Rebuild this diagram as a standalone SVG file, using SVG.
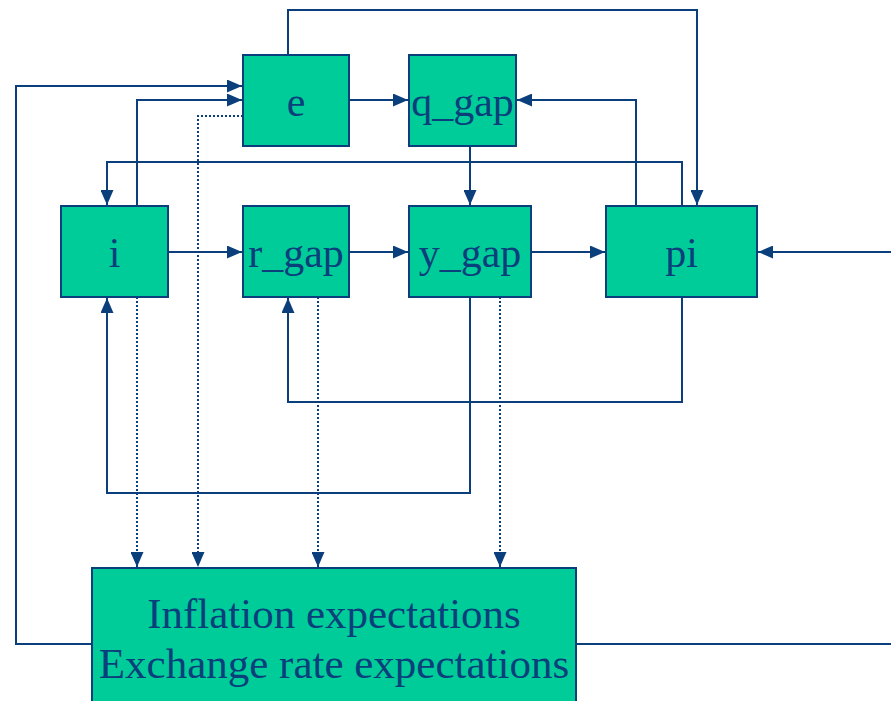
<svg xmlns="http://www.w3.org/2000/svg" width="891" height="701" viewBox="0 0 891 701">
<defs>
<style>
.box{fill:#00CC99;stroke:#0A3F7C;stroke-width:2}
.lbl{font-family:"Liberation Serif","Times New Roman",serif;font-size:42px;fill:#0A3F7C;text-anchor:middle}
.big{font-size:43px}
.c{fill:none;stroke:#0A3F7C;stroke-width:2}
.d{fill:none;stroke:#0A3F7C;stroke-width:2;stroke-dasharray:2 2}
</style>
<marker id="ah" markerUnits="userSpaceOnUse" markerWidth="15" markerHeight="13" refX="15" refY="6.5" orient="auto">
<path d="M0,0 L15,6.5 L0,13 z" fill="#0A3F7C"/>
</marker>
</defs>
<rect width="891" height="701" fill="#ffffff"/>
<g id="connectors">
<path class="c" d="M288,55 V10 H697 V205" marker-end="url(#ah)"/>
<path class="c" d="M92,644 H16 V86 H242" marker-end="url(#ah)"/>
<path class="c" d="M137,206 V100 H242" marker-end="url(#ah)"/>
<path class="d" d="M243,116 H198 V567" marker-end="url(#ah)"/>
<path class="c" d="M349,100 H408" marker-end="url(#ah)"/>
<path class="c" d="M682,206 V162 H107 V205" marker-end="url(#ah)"/>
<path class="c" d="M470,146 V205" marker-end="url(#ah)"/>
<path class="c" d="M636,206 V100 H517" marker-end="url(#ah)"/>
<path class="c" d="M168,252 H242" marker-end="url(#ah)"/>
<path class="c" d="M349,252 H408" marker-end="url(#ah)"/>
<path class="c" d="M531,252 H605" marker-end="url(#ah)"/>
<path class="c" d="M891,252 H758" marker-end="url(#ah)"/>
<path class="c" d="M470,297 V493 H107 V298" marker-end="url(#ah)"/>
<path class="c" d="M682,297 V402 H288 V298" marker-end="url(#ah)"/>
<path class="d" d="M137,297 V567" marker-end="url(#ah)"/>
<path class="d" d="M318,297 V567" marker-end="url(#ah)"/>
<path class="d" d="M500,297 V567" marker-end="url(#ah)"/>
<path class="c" d="M576,644 H891"/>
</g>
<g id="node-e"><rect class="box" x="243" y="55" width="106" height="91"/><text class="lbl" x="296" y="116">e</text></g>
<g id="node-q_gap"><rect class="box" x="409" y="55" width="107" height="91"/><text class="lbl" x="462.5" y="116">q_gap</text></g>
<g id="node-i"><rect class="box" x="61" y="206" width="107" height="91"/><text class="lbl" x="114.5" y="267">i</text></g>
<g id="node-r_gap"><rect class="box" x="243" y="206" width="106" height="91"/><text class="lbl" x="296" y="267">r_gap</text></g>
<g id="node-y_gap"><rect class="box" x="409" y="206" width="122" height="91"/><text class="lbl" x="470" y="267">y_gap</text></g>
<g id="node-pi"><rect class="box" x="606" y="206" width="151" height="91"/><text class="lbl" x="681.5" y="267">pi</text></g>
<g id="node-expectations"><rect class="box" x="92" y="568" width="484" height="150"/>
<text class="lbl big" x="334" y="628">Inflation expectations</text>
<text class="lbl big" x="334" y="678">Exchange rate expectations</text></g>
</svg>
